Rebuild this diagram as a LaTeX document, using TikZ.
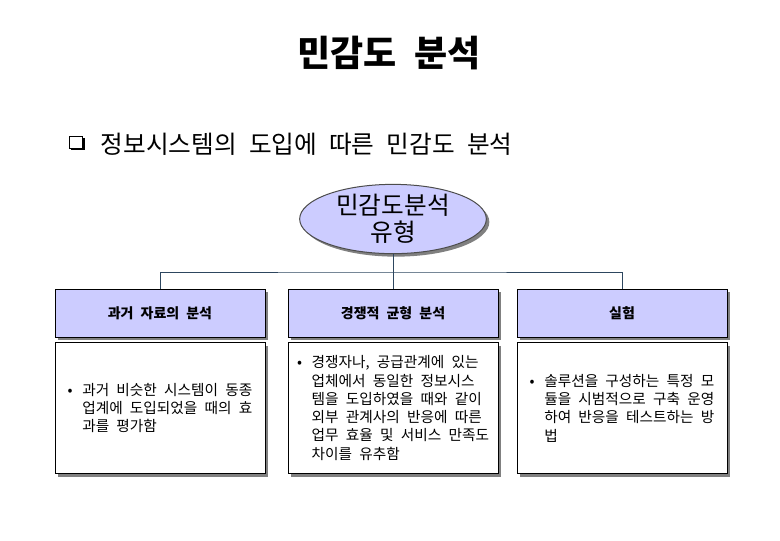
\documentclass[tikz,border=0pt]{standalone}
\usepackage{fontspec}
\usepackage{tikz}
\usetikzlibrary{shapes.geometric, shadows, positioning}
\newfontfamily\kr{Noto Sans CJK KR}[WordSpace=2.2]
\definecolor{lavender}{RGB}{204,204,255}
\definecolor{treeblue}{RGB}{45,70,95}
\definecolor{shadowgray}{RGB}{128,128,128}
\newcommand{\itemmark}{\makebox[1em][l]{\textbullet}}
\newcommand{\itemgap}{\hspace*{1em}}
\tikzset{
  boxshadow/.style={general shadow={fill=shadowgray, shadow xshift=2.25pt, shadow yshift=-2.25pt}},
  headbox/.style={draw, line width=0.75pt, fill=lavender, boxshadow, minimum width=157.5pt, minimum height=36pt, inner sep=0pt, font=\kr\bfseries\fontsize{10.5}{12}\selectfont},
  bodybox/.style={draw, line width=0.75pt, fill=white, boxshadow, minimum width=157.5pt, minimum height=98.25pt, inner sep=0pt, align=left, font=\kr\fontsize{11}{13.7}\selectfont},
  conn/.style={draw=treeblue, line width=0.75pt},
}
\begin{document}
\begin{tikzpicture}[x=0.75pt,y=0.75pt,yscale=-1,xscale=1]
\useasboundingbox (0,0) rectangle (780,540);

% Text Node
\node [font=\kr\bfseries\fontsize{27}{32}\selectfont] (title) at (389,53) {민감도 분석};
%Shape: Square
\node [draw, fill=white, line width=0.75pt, minimum width=10pt, minimum height=9pt, inner sep=0pt, general shadow={fill=black, shadow xshift=1.5pt, shadow yshift=-1.5pt}] (chk) at (76,142) {};
% Text Node
\node [anchor=west, font=\kr\fontsize{18.5}{22}\selectfont] (subtitle) at (96,144) {정보시스템의 도입에 따른 민감도 분석};

%Shape: Ellipse
\node [ellipse, draw=black!70, line width=0.75pt, fill=lavender, boxshadow, minimum width=140pt, minimum height=48pt, inner sep=0pt, align=center, font=\kr\fontsize{18.5}{20}\selectfont] (root) at (393,219) {민감도분석\\유형};

%Shape: Rectangle
\node [headbox] (past) at (160,313) {과거 자료의 분석};
\node [headbox] (equil) at (393,313) {경쟁적 균형 분석};
\node [headbox] (pilot) at (622,313) {실험};

%Shape: Rectangle
\node [bodybox] (pastbody) at (160,408) {\itemmark 과거 비슷한 시스템이 동종\\\itemgap 업계에 도입되었을 때의 효\\\itemgap 과를 평가함};
\node [bodybox] (equilbody) at (393,408) {\itemmark 경쟁자나, 공급관계에 있는\\\itemgap 업체에서 동일한 정보시스\\\itemgap 템을 도입하였을 때와 같이\\\itemgap 외부 관계사의 반응에 따른\\\itemgap 업무 효율 및 서비스 만족도\\\itemgap 차이를 유추함};
\node [bodybox] (pilotbody) at (622,408) {\itemmark 솔루션을 구성하는 특정 모\\\itemgap 듈을 시범적으로 구축 운영\\\itemgap 하여 반응을 테스트하는 방\\\itemgap 법};

%Straight Lines
\coordinate (bus) at (393,272);
\draw [conn] (root.south) -- (bus);
\draw [conn] (past.north) |- (bus) -| (pilot.north);
\draw [conn] (bus) -- (equil.north);

\end{tikzpicture}
\end{document}
